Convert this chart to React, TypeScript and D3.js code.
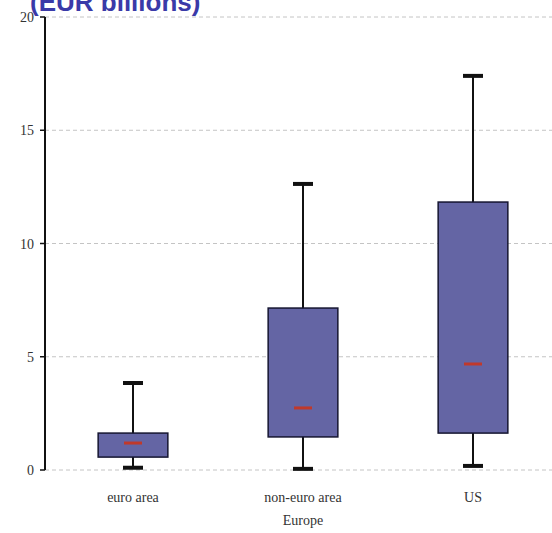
import React from "react";
import * as d3 from "d3";

const categories = ["euro area", "non-euro area", "US"];
const whiskerLow = [0.1, 0.05, 0.18];
const q1 = [0.57, 1.46, 1.63];
const median = [1.19, 2.74, 4.68];
const q3 = [1.63, 7.15, 11.83];
const whiskerHigh = [3.84, 12.63, 17.4];
const yTicks = [0, 5, 10, 15, 20];
const title = "(EUR billions)";
const groupLabel = "Europe";

const W = 552;
const H = 533;

export default function App() {
  const y = d3.scaleLinear().domain([0, 20]).range([470, 17]);
  const x = d3.scaleBand().domain(categories).range([48, 558]).paddingInner(0.59).paddingOuter(0.295);
  const bw = x.bandwidth();
  const axisX = 45;
  return (
    <svg width={W} height={H} style={{ position: "absolute", left: 0, top: 0, background: "#fff" }}>
      <text x={30} y={11} fontFamily="Liberation Sans, Arial, sans-serif" fontWeight="bold" fontSize={26} fill="#3a3aa8">
        {title}
      </text>
      {yTicks.map((t) => (
        <g key={t}>
          <line x1={axisX} x2={W} y1={y(t)} y2={y(t)} stroke="#c4c4c4" strokeWidth={1} strokeDasharray="4,3" />
          <line x1={axisX - 5} x2={axisX} y1={y(t)} y2={y(t)} stroke="#111" strokeWidth={1.5} />
          <text x={34} y={y(t) + 5} textAnchor="end" fontFamily="Liberation Serif, Times New Roman, serif" fontSize={14} fill="#333">
            {t}
          </text>
        </g>
      ))}
      <line x1={axisX} x2={axisX} y1={y(20)} y2={y(0)} stroke="#111" strokeWidth={2} />
      {categories.map((c, i) => {
        const cx = (x(c) as number) + bw / 2;
        return (
          <g key={c}>
            <line x1={cx} x2={cx} y1={y(whiskerHigh[i])} y2={y(whiskerLow[i])} stroke="#111" strokeWidth={2} />
            <line x1={cx - 10} x2={cx + 10} y1={y(whiskerHigh[i])} y2={y(whiskerHigh[i])} stroke="#111" strokeWidth={4} />
            <line x1={cx - 10} x2={cx + 10} y1={y(whiskerLow[i])} y2={y(whiskerLow[i])} stroke="#111" strokeWidth={4} />
            <rect x={x(c) as number} width={bw} y={y(q3[i])} height={y(q1[i]) - y(q3[i])} fill="#6465a4" stroke="#151530" strokeWidth={1.5} />
            <line x1={cx - 9} x2={cx + 9} y1={y(median[i])} y2={y(median[i])} stroke="#c0392b" strokeWidth={3} />
            <text x={cx} y={502} textAnchor="middle" fontFamily="Liberation Serif, Times New Roman, serif" fontSize={14} fill="#333">
              {c}
            </text>
          </g>
        );
      })}
      <text x={(x("non-euro area") as number) + bw / 2} y={525} textAnchor="middle" fontFamily="Liberation Serif, Times New Roman, serif" fontSize={14} fill="#333">
        {groupLabel}
      </text>
    </svg>
  );
}
